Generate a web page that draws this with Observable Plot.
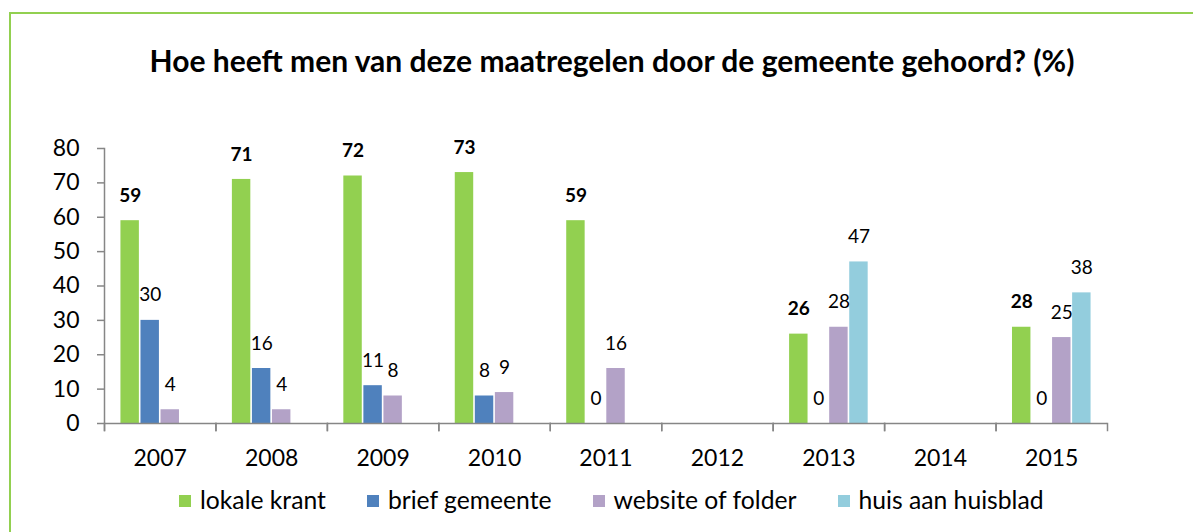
<!DOCTYPE html>
<html>
<head>
<meta charset="utf-8">
<script src="https://cdn.jsdelivr.net/npm/d3@7"></script>
<script src="https://cdn.jsdelivr.net/npm/@observablehq/plot@0.6"></script>
<style>
  html, body { margin: 0; padding: 0; background: #fff; }
  body { position: relative; width: 1193px; height: 532px; overflow: hidden; font-family: Lato, "Noto Sans", sans-serif; }
  #border { position: absolute; left: 9px; top: 12px; width: 1400px; height: 800px; border: 2px solid #92D050; box-sizing: border-box; }
  #title { position: absolute; left: 612px; top: 45px; transform: translateX(-50%); white-space: nowrap; font-weight: bold; font-size: 30px; line-height: 30px; color: #000; }
  #chart { position: absolute; left: 0; top: 120px; }
  #legend { position: absolute; left: 179px; top: 488px; display: flex; gap: 41px; font-size: 24.7px; line-height: 24px; color: #000; white-space: nowrap; }
  .item { display: flex; align-items: flex-start; }
  .sw { width: 12px; height: 12px; margin-top: 7px; margin-right: 9px; }
</style>
</head>
<body>
<div id="border"></div>
<div id="title"></div>
<div id="chart"></div>
<div id="legend"></div>
<script>
const titleText = "Hoe heeft men van deze maatregelen door de gemeente gehoord? (%)";
const years = ["2007", "2008", "2009", "2010", "2011", "2012", "2013", "2014", "2015"];
const series = ["lokale krant", "brief gemeente", "website of folder", "huis aan huisblad"];
const colors = ["#92D050", "#4F81BD", "#B3A2C7", "#93CDDD"];
const lokaleKrant     = [59, 71, 72, 73, 59, null, 26, null, 28];
const briefGemeente   = [30, 16, 11,  8,  0, null,  0, null,  0];
const websiteFolder   = [ 4,  4,  8,  9, 16, null, 28, null, 25];
const huisAanHuisblad = [null, null, null, null, null, null, 47, null, 38];
const yTicks = [0, 10, 20, 30, 40, 50, 60, 70, 80];

const seriesValues = [lokaleKrant, briefGemeente, websiteFolder, huisAanHuisblad];
const table = [];
years.forEach((year, i) => {
  series.forEach((s, j) => {
    const v = seriesValues[j][i];
    if (v != null) table.push({year, series: s, value: v});
  });
});
const boldRows = table.filter(d => d.series === series[0]);
const plainRows = table.filter(d => d.series !== series[0]);

document.getElementById("title").textContent = titleText;

const gray = "#868686";
const H = 350, mT = 28, mB = 47;
const plotH = H - mT - mB;

const chart = Plot.plot({
  width: 1193,
  height: H,
  marginTop: mT,
  marginBottom: mB,
  marginLeft: 104,
  marginRight: 86,
  style: {fontFamily: "Lato, 'Noto Sans', sans-serif", fontSize: "22px", color: "#000", background: "transparent", overflow: "visible"},
  fx: {domain: years, padding: 0, round: false, label: null},
  x: {domain: series, paddingInner: 0.08, paddingOuter: 0.82, round: false, axis: null},
  y: {domain: [0, 80], axis: null},
  color: {domain: series, range: colors},
  marks: [
    Plot.barY(table, {fx: "year", x: "series", y: "value", fill: "series"}),
    Plot.ruleY(years, {fx: d => d, y: 0, stroke: gray, strokeWidth: 1.5}),
    Plot.frame({anchor: "left", insetTop: plotH, insetBottom: -7, stroke: gray, strokeWidth: 1.5}),
    Plot.frame({anchor: "right", insetTop: plotH, insetBottom: -7, stroke: gray, strokeWidth: 1.5}),
    Plot.frame({anchor: "left", facet: "super", insetBottom: -7, stroke: gray, strokeWidth: 1.5}),
    Plot.axisY({ticks: yTicks, tickSize: 7, tickPadding: 18, fontSize: 23, stroke: gray, strokeWidth: 1.5, label: null}),
    Plot.axisFx({anchor: "bottom", tickSize: 0, tickPadding: 26, fontSize: 23, label: null}),
    Plot.text(boldRows, {
      fx: "year", x: "series", y: "value", text: d => String(d.value),
      dy: -25, fontSize: 19, fill: "#000", fontWeight: "bold"
    }),
    Plot.text(plainRows, {
      fx: "year", x: "series", y: "value", text: d => String(d.value),
      dy: -25, fontSize: 19, fill: "#000"
    })
  ]
});
document.getElementById("chart").appendChild(chart);

const legend = document.getElementById("legend");
series.forEach((s, i) => {
  const item = document.createElement("div");
  item.className = "item";
  const sw = document.createElement("div");
  sw.className = "sw";
  sw.style.background = colors[i];
  const label = document.createElement("span");
  label.textContent = s;
  item.appendChild(sw);
  item.appendChild(label);
  legend.appendChild(item);
});
</script>
</body>
</html>
